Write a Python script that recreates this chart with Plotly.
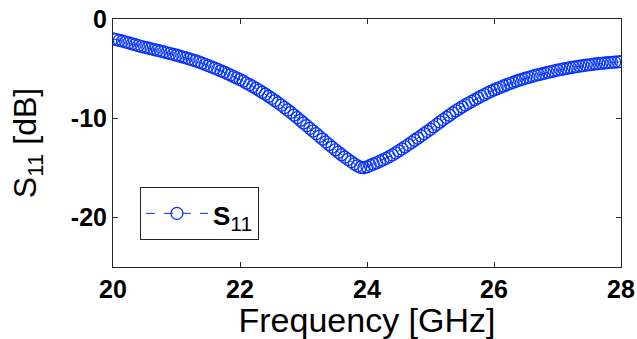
import plotly.graph_objects as go

freq_ghz = [round(20.0 + 0.05 * i, 2) for i in range(161)]
s11_db = [
    -2.00, -2.07, -2.15, -2.23, -2.32, -2.41, -2.50, -2.59, -2.68, -2.77,
    -2.85, -2.92, -3.00, -3.08, -3.16, -3.24, -3.32, -3.40, -3.48, -3.56,
    -3.65, -3.74, -3.83, -3.92, -4.02, -4.12, -4.22, -4.33, -4.45, -4.57,
    -4.70, -4.82, -4.95, -5.08, -5.22, -5.36, -5.50, -5.65, -5.80, -5.95,
    -6.10, -6.27, -6.45, -6.62, -6.80, -6.99, -7.18, -7.38, -7.58, -7.79,
    -8.00, -8.22, -8.45, -8.68, -8.92, -9.17, -9.42, -9.68, -9.95, -10.21,
    -10.48, -10.75, -11.02, -11.29, -11.56, -11.83, -12.10, -12.38, -12.65, -12.92,
    -13.18, -13.43, -13.68, -13.92, -14.15, -14.38, -14.60, -14.80, -14.95, -14.98,
    -14.90, -14.76, -14.62, -14.49, -14.35, -14.20, -14.05, -13.88, -13.70, -13.50,
    -13.30, -13.09, -12.88, -12.67, -12.45, -12.22, -12.00, -11.78, -11.55, -11.33,
    -11.10, -10.86, -10.62, -10.38, -10.15, -9.92, -9.70, -9.47, -9.25, -9.05,
    -8.85, -8.66, -8.48, -8.30, -8.12, -7.95, -7.78, -7.61, -7.45, -7.30,
    -7.15, -7.01, -6.88, -6.75, -6.62, -6.50, -6.38, -6.27, -6.16, -6.06,
    -5.96, -5.87, -5.78, -5.69, -5.61, -5.53, -5.45, -5.37, -5.30, -5.23,
    -5.16, -5.09, -5.03, -4.97, -4.91, -4.85, -4.80, -4.75, -4.70, -4.65,
    -4.61, -4.57, -4.53, -4.49, -4.46, -4.43, -4.40, -4.37, -4.35, -4.32,
    -4.30,
]
x_ticks = [20, 22, 24, 26, 28]
y_ticks = [0, -10, -20]

blue = "#0030ff"
axis_col = "#262626"
font_fam = "Liberation Sans, Arial, sans-serif"

fig = go.Figure()
fig.add_trace(go.Scatter(
    x=freq_ghz, y=s11_db, mode="lines+markers",
    name="<b><span style='font-size:26px'>S</span></b><sub><span style='font-size:21px'>11</span></sub>",
    line=dict(color=blue, width=1, dash="dash"),
    marker=dict(symbol="circle-open", size=12, color=blue, line=dict(width=1.2, color=blue)),
))

axis_common = dict(
    showgrid=False, zeroline=False, showline=True, linecolor=axis_col, linewidth=1,
    mirror="ticks", ticks="inside", ticklen=5, tickcolor=axis_col,
    tickfont=dict(family=font_fam, size=25, color="black", weight="bold"),
    automargin=False,
)

fig.update_layout(
    width=637, height=339,
    margin=dict(l=113, r=16, t=19, b=72),
    paper_bgcolor="white", plot_bgcolor="white",
    font=dict(family=font_fam, color="black"),
    showlegend=True,
    legend=dict(
        x=0.053, y=0.3226, xanchor="left", yanchor="top",
        bgcolor="white", bordercolor=axis_col, borderwidth=1,
        font=dict(family=font_fam, size=29, color="black"),
        itemwidth=62, entrywidth=88, tracegroupgap=0,
    ),
    xaxis=dict(
        range=[20, 28], tickvals=x_ticks, ticktext=[str(v) for v in x_ticks],
        title=dict(text="Frequency [GHz]", font=dict(family=font_fam, size=34, color="black"), standoff=0),
        **axis_common,
    ),
    yaxis=dict(
        range=[-25, 0], tickvals=y_ticks, ticktext=[str(v) for v in y_ticks],
        title=dict(text="S<sub>11</sub> [dB]", font=dict(family=font_fam, size=32, color="black"), standoff=24),
        **axis_common,
    ),
)

fig.write_html("out.html")
